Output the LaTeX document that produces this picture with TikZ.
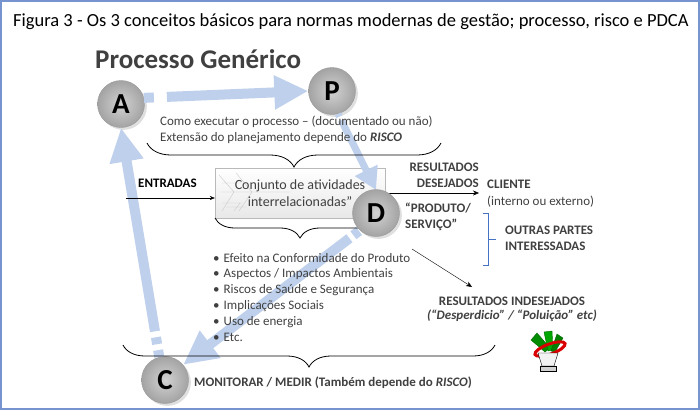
\documentclass[tikz,border=0pt]{standalone}
\usepackage{fontspec}
\setmainfont{Carlito}
\usetikzlibrary{arrows.meta, decorations.pathreplacing, shadows}

\definecolor{azulclaro}{RGB}{190,208,236}
\definecolor{azul}{RGB}{68,114,196}
\definecolor{moldura}{RGB}{118,148,208}
\definecolor{cinza}{RGB}{64,64,64}

\begin{document}
\begin{tikzpicture}[x=1pt, y=-1pt,
  letra/.style={circle, minimum size=47pt, inner sep=0pt, shading=radial, inner color=gray!35, outer color=gray!72, draw=gray!80, drop shadow={opacity=0.25}, font=\fontsize{29}{29}\selectfont\bfseries, text=black},
  pdca/.style={azulclaro, line width=10pt, -{Triangle[length=34pt,width=32pt]}},
  chave/.style={decorate, decoration={brace, mirror, amplitude=#1}, thick},
  chave/.default=20,
  texto/.style={text=cinza, font=\fontsize{13}{15.8}\selectfont, inner sep=0pt},
  negrito/.style={text=cinza, font=\fontsize{13}{15.5}\selectfont\bfseries, inner sep=0pt}]
\useasboundingbox (0,0) rectangle (700,410);
\draw[moldura, line width=2pt] (1,1) rectangle (699,409);
\node[anchor=base west, inner sep=0pt, font=\fontsize{18.5}{22}\selectfont] (titulo) at (13,26) {Figura 3 - Os 3 conceitos básicos para normas modernas de gestão; processo, risco e PDCA};
\node[anchor=base west, inner sep=0pt, text=cinza, font=\fontsize{27}{30}\selectfont\bfseries] (generico) at (95,68) {Processo Genérico};

\node[draw=gray!55, top color=white, bottom color=gray!18, drop shadow={opacity=0.15, shadow xshift=1pt, shadow yshift=-1pt}, minimum width=170pt, minimum height=50pt, inner sep=0pt] (caixa) at (300,193) {};
\draw[gray!40] (219,175) -- (234,192) (236,173) -- (252,192) (221,192) -- (290,192) (222,183) -- (248,183)
  (234,192) -- (222,211) (252,192) -- (239,211) (222,203) -- (242,203) (240,203) -- (234,211) (226,207) -- (246,207);
\node[texto, align=center, font=\fontsize{14}{16.5}\selectfont] (atividades) at (300,193) {Conjunto de atividades\\interrelacionadas”};

\node[letra] (A) at (121,104) {A};
\node[letra] (P) at (332,91) {P};
\node[letra] (C) at (165,380) {C};

\draw[pdca, dash pattern=on 10pt off 13pt on 400pt] (A.15) -- (P.west);
\draw[pdca, line width=7pt, -{Triangle[length=22pt,width=24pt]}, dash pattern=on 3pt off 4pt on 300pt] (P.-75) -- (376,190);
\draw[pdca, dash pattern=on 7pt off 5pt on 400pt] (359,231) -- (C.40);
\draw[pdca, dash pattern=on 7pt off 6pt on 7pt off 6pt on 400pt] (C.104) -- (A.south);

\node[texto, align=left, anchor=base west] (planejamento) at (160,141) {Como executar o processo -- (documentado ou não)\\Extensão do planejamento depende do \textbf{\textit{RISCO}}};
\draw[chave=24] (147,143) -- (441,143);
\draw[chave=20] (215,218) -- (385,218);
\draw[chave=22] (123,345) -- (495,345);

\node[negrito, text=black, anchor=base west] (entradas) at (138,187) {ENTRADAS};
\coordinate (inicio) at (126,198);
\draw[-{Stealth[length=5pt,width=4pt]}] (inicio) -- (caixa.west |- inicio);
\coordinate (saida) at (479,193);
\draw[-{Stealth[length=6pt,width=5pt]}] (caixa.east |- saida) -- (saida);
\node[letra] (D) at (376,213) {D};

\node[negrito, align=right, anchor=base east] (desejados) at (479,187) {RESULTADOS\\DESEJADOS};
\node[negrito, anchor=base west] (cliente) at (487,188) {CLIENTE};
\node[texto, anchor=base west] (interno) at (487,205) {(interno ou externo)};
\node[negrito, align=left, anchor=base west] (produto) at (405,228) {“PRODUTO/\\SERVIÇO”};
\draw[azul, thick] (483,213) -- (488,213) -- (488,265) -- (483,265) (488,239) -- (496,239);
\node[negrito, align=left, anchor=base west] (partes) at (505,250) {OUTRAS PARTES\\INTERESSADAS};

\coordinate (desvio) at (412,249);
\coordinate (indesejado) at (472,287);
\draw[-{Stealth[length=6pt,width=5pt]}] (desvio) -- (indesejado);
\node[negrito, anchor=base] (indesejados) at (512,305) {RESULTADOS INDESEJADOS};
\node[negrito, anchor=base, font=\fontsize{13}{15}\selectfont\bfseries\itshape] (poluicao) at (512,319) {(“Desperdicio” / “Poluição” etc)};

\node[texto, align=left, anchor=base west] (efeitos) at (213,341) {\textbullet\hspace{4pt}Efeito na Conformidade do Produto\\
\textbullet\hspace{4pt}Aspectos / Impactos Ambientais\\
\textbullet\hspace{4pt}Riscos de Saúde e Segurança\\
\textbullet\hspace{4pt}Implicações Sociais\\
\textbullet\hspace{4pt}Uso de energia\\
\textbullet\hspace{4pt}Etc.};

\node[negrito, anchor=base west] (monitorar) at (194,386) {MONITORAR / MEDIR (Também depende do \textit{RISCO})};

\begin{scope}[shift={(548,352)}]
\fill[green!55!black, draw=black!60!green] (-3,0) -- (-17,-12) -- (-11,-19) -- (2,-4) -- cycle;
\fill[green!65!black, draw=black!60!green] (0,-1) -- (-4,-20) -- (4,-21) -- (5,-2) -- cycle;
\fill[green!50!black, draw=black!60!green] (3,-1) -- (9,-18) -- (15,-14) -- (7,0) -- cycle;
\draw[red!85!black, line width=3pt] (2,-3) ellipse [x radius=16, y radius=5, rotate=20];
\fill[gray!10, draw=black] (-10,1) -- (10,1) -- (6,14) -- (-6,14) -- cycle;
\fill[gray!35, draw=black] (-8,14) rectangle (8,19);
\end{scope}
\end{tikzpicture}
\end{document}
